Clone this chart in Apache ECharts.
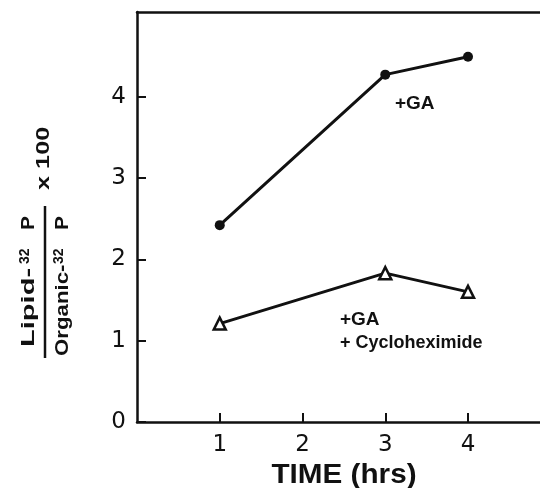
<!DOCTYPE html>
<html>
<head>
<meta charset="utf-8">
<style>
  html, body { margin: 0; padding: 0; background: #fff; }
  #chart { width: 540px; height: 488px; }
</style>
<script src="https://cdn.jsdelivr.net/npm/echarts@6/dist/echarts.min.js"></script>
</head>
<body>
<div id="chart"></div>
<script>
// Incubation times (hrs) and lipid/organic 32P ratios (x100)
const timeHrs = [1, 3, 4];
const gaValues = [2.42, 4.27, 4.49];
const gaCycloValues = [1.21, 1.83, 1.60];
const xTickValues = [1, 2, 3, 4];
const yTickValues = [0, 1, 2, 3, 4];

const INK = '#111';
const SANS = '"Liberation Sans", Arial, Helvetica, sans-serif';
const TICK_FONT = '"DejaVu Sans", "Liberation Sans", sans-serif';

function pairs(xs, ys) { return xs.map((x, i) => [x, ys[i]]); }

// Rotated fraction title: Lipid-32P / Organic-32P x 100
function titleText(text, x, y, size, sx) {
  return {
    type: 'text', x: x, y: y, scaleX: sx,
    style: {
      text: text, fill: INK,
      fontFamily: SANS, fontWeight: 'bold', fontSize: size,
      textAlign: 'left', textVerticalAlign: 'middle'
    }
  };
}

const chart = echarts.init(document.getElementById('chart'), null, { renderer: 'canvas' });

chart.setOption({
  backgroundColor: '#fff',
  animation: false,
  grid: { left: 137, right: 0, top: 12, bottom: 66 },
  xAxis: [{
    type: 'value', min: 0, max: 4.87,
    axisLine: { lineStyle: { color: INK, width: 2.5 } },
    axisTick: { inside: true, length: 9, customValues: xTickValues, lineStyle: { color: INK, width: 2 } },
    axisLabel: { customValues: xTickValues, margin: 12, color: INK, fontSize: 23, fontFamily: TICK_FONT },
    splitLine: { show: false }
  }, {
    type: 'value', position: 'top', min: 0, max: 1,
    axisLine: { show: true, lineStyle: { color: INK, width: 2.5 } },
    axisTick: { show: false }, axisLabel: { show: false }, splitLine: { show: false }
  }],
  yAxis: {
    type: 'value', min: 0, max: 5.04,
    axisLine: { show: true, lineStyle: { color: INK, width: 2.5 } },
    axisTick: { show: true, inside: true, length: 9, customValues: yTickValues, lineStyle: { color: INK, width: 2 } },
    axisLabel: { customValues: yTickValues, margin: 11, color: INK, fontSize: 23, fontFamily: TICK_FONT },
    splitLine: { show: false }
  },
  series: [{
    name: '+GA', type: 'line', xAxisIndex: 0,
    data: pairs(timeHrs, gaValues),
    symbol: 'circle', symbolSize: 10,
    lineStyle: { color: INK, width: 3 },
    itemStyle: { color: INK }
  }, {
    name: '+GA + Cycloheximide', type: 'line', xAxisIndex: 0,
    data: pairs(timeHrs, gaCycloValues),
    symbol: 'triangle', symbolSize: 12,
    lineStyle: { color: INK, width: 3 },
    itemStyle: { color: '#fff', borderColor: INK, borderWidth: 2.5 }
  }],
  graphic: [
    {
      type: 'group', x: 45, y: 283, rotation: Math.PI / 2,
      children: [
        { type: 'line', shape: { x1: -75, y1: 0, x2: 77, y2: 0 }, style: { stroke: INK, lineWidth: 2.5 } },
        titleText('Lipid-', -64, -16, 19, 1.53),
        titleText('32', 19, -20, 14, 1.0),
        titleText('P', 53, -16, 19, 1.1),
        titleText('Organic-', -73, 18, 19, 1.17),
        titleText('32', 19, 14, 14, 1.0),
        titleText('P', 53, 18, 19, 1.1),
        titleText('x 100', 93, -1, 19, 1.33)
      ]
    },
    {
      type: 'text', x: 344, y: 475, scaleX: 1.06, originX: 0,
      style: { text: 'TIME (hrs)', fill: INK, fontFamily: SANS, fontWeight: 'bold', fontSize: 28,
               textAlign: 'center', textVerticalAlign: 'middle' }
    },
    {
      type: 'text', x: 395, y: 104,
      style: { text: '+GA', fill: INK, fontFamily: SANS, fontWeight: 'bold', fontSize: 19,
               textAlign: 'left', textVerticalAlign: 'middle' }
    },
    {
      type: 'text', x: 340, y: 320,
      style: { text: '+GA', fill: INK, fontFamily: SANS, fontWeight: 'bold', fontSize: 19,
               textAlign: 'left', textVerticalAlign: 'middle' }
    },
    {
      type: 'text', x: 340, y: 343,
      style: { text: '+ Cycloheximide', fill: INK, fontFamily: SANS, fontWeight: 'bold', fontSize: 18,
               textAlign: 'left', textVerticalAlign: 'middle' }
    }
  ]
});
</script>
</body>
</html>
